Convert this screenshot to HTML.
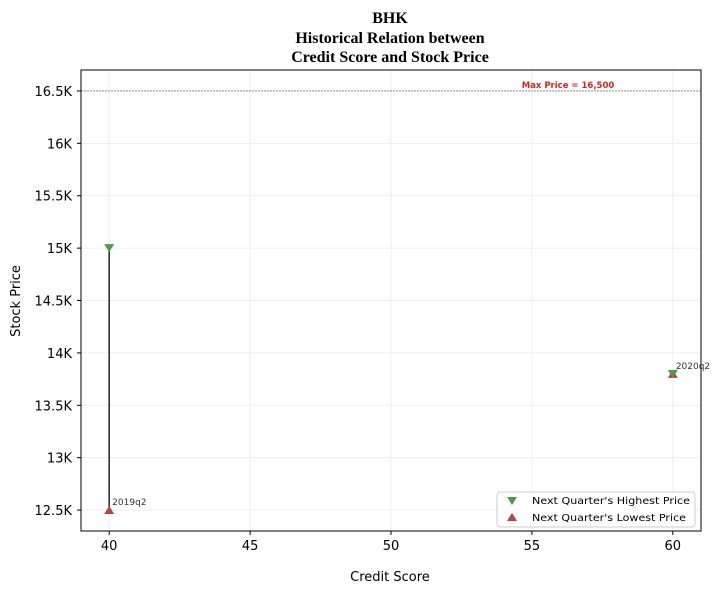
<!DOCTYPE html>
<html><head><meta charset="utf-8"><style>
html,body{margin:0;padding:0;background:#fff;}
svg{display:block;font-family:"DejaVu Sans","Liberation Sans",sans-serif;}
</style></head><body>
<svg id="chart" width="722" height="594" viewBox="0 0 722 594">
<text x="390" y="23" text-anchor="middle" font-family="Liberation Serif,serif" font-weight="bold" font-size="16">BHK</text>
<text x="390" y="43" text-anchor="middle" font-family="Liberation Serif,serif" font-weight="bold" font-size="16">Historical Relation between</text>
<text x="390" y="62" text-anchor="middle" font-family="Liberation Serif,serif" font-weight="bold" font-size="16">Credit Score and Stock Price</text>
<g id="grid"></g><g id="axes"></g><g id="marks"></g>
<rect x="81" y="70" width="620" height="461" fill="none" stroke="#000" stroke-width="1"/>
<text x="390" y="581" text-anchor="middle" font-size="13">Credit Score</text>
<text transform="translate(20,301) rotate(-90)" text-anchor="middle" font-size="13">Stock Price</text>
<g>
<rect x="497" y="492" width="198" height="35" rx="3" fill="#fff" fill-opacity="0.8" stroke="#ccc"/>
<path d="M507,497 L517,497 L512,505 Z" fill="#4c9a4c"/>
<text x="532" y="504" font-size="10" textLength="158" lengthAdjust="spacingAndGlyphs">Next Quarter's Highest Price</text>
<path d="M507,521 L517,521 L512,513 Z" fill="#c04040"/>
<text x="532" y="521" font-size="10" textLength="154" lengthAdjust="spacingAndGlyphs">Next Quarter's Lowest Price</text>
</g>
</svg>
<script>
const labels = ["2019q2","2020q2"];
const creditScores = [40,60];
const highPrices = [15000,13800];
const lowPrices = [12500,13800];
const maxPrice = 16500;
const xTicks = [40,45,50,55,60];
const yTicks = [12500,13000,13500,14000,14500,15000,15500,16000,16500];
const yTickLabels = ["12.5K","13K","13.5K","14K","14.5K","15K","15.5K","16K","16.5K"];
const NS="http://www.w3.org/2000/svg";
const X0=81,X1=701,Y0=70,Y1=531,xmin=39,xmax=61,ymin=12300,ymax=16700;
const sx=v=>X0+(v-xmin)/(xmax-xmin)*(X1-X0);
const sy=v=>Y1-(v-ymin)/(ymax-ymin)*(Y1-Y0);
function mk(tag,attrs,parent,text){const e=document.createElementNS(NS,tag);for(const k in attrs)e.setAttribute(k,attrs[k]);if(text!==undefined)e.textContent=text;document.getElementById(parent).appendChild(e);return e;}
xTicks.forEach(t=>{
  const g=mk('line',{x1:sx(t),x2:sx(t),y1:Y0,y2:Y1,stroke:'#ebebeb','stroke-width':0.8},'grid');
  
  
  const tk=mk('line',{x1:sx(t),x2:sx(t),y1:Y1,y2:Y1+4,stroke:'#000'},'axes');
  
  
  const tl=mk('text',{x:sx(t),y:Y1+19,'text-anchor':'middle','font-size':13},'axes',String(t));
  
  
});
yTicks.forEach((t,i)=>{
  const g=mk('line',{x1:X0,x2:X1,y1:sy(t),y2:sy(t),stroke:'#ebebeb','stroke-width':0.8},'grid');
  
  
  const tk=mk('line',{x1:X0-4,x2:X0,y1:sy(t),y2:sy(t),stroke:'#000'},'axes');
  
  
  const tl=mk('text',{x:X0-9,y:sy(t)+5,'text-anchor':'end','font-size':13},'axes',yTickLabels[i]);
  
  
});
const ml=mk('line',{x1:X0,x2:X1,y1:sy(maxPrice),y2:sy(maxPrice),stroke:'#555','stroke-width':0.7,'stroke-dasharray':'2,1'},'marks');


const mt=mk('text',{x:568,y:sy(maxPrice)-3,'text-anchor':'middle','font-size':8.5,'font-weight':'bold',fill:'#e02020'},'marks','Max Price = '+maxPrice.toLocaleString('en-US'));


creditScores.forEach((c,i)=>{
  const x=sx(c),yh=sy(highPrices[i]),yl=sy(lowPrices[i]);
  const r=mk('line',{x1:x,x2:x,y1:yh,y2:yl,stroke:'#222','stroke-width':1.5},'marks');
  
  
  const lo=mk('path',{d:`M${x-5},${yl+4} L${x+5},${yl+4} L${x},${yl-4} Z`,fill:'#c04040'},'marks');
  
  
  const hi=mk('path',{d:`M${x-5},${yh-4} L${x+5},${yh-4} L${x},${yh+4} Z`,fill:'#4c9a4c'},'marks');
  
  
  const lb=mk('text',{x:x+3,y:yl-5,'font-size':9,fill:'#333'},'marks',labels[i]);
  
  
});
</script>
</body></html>
